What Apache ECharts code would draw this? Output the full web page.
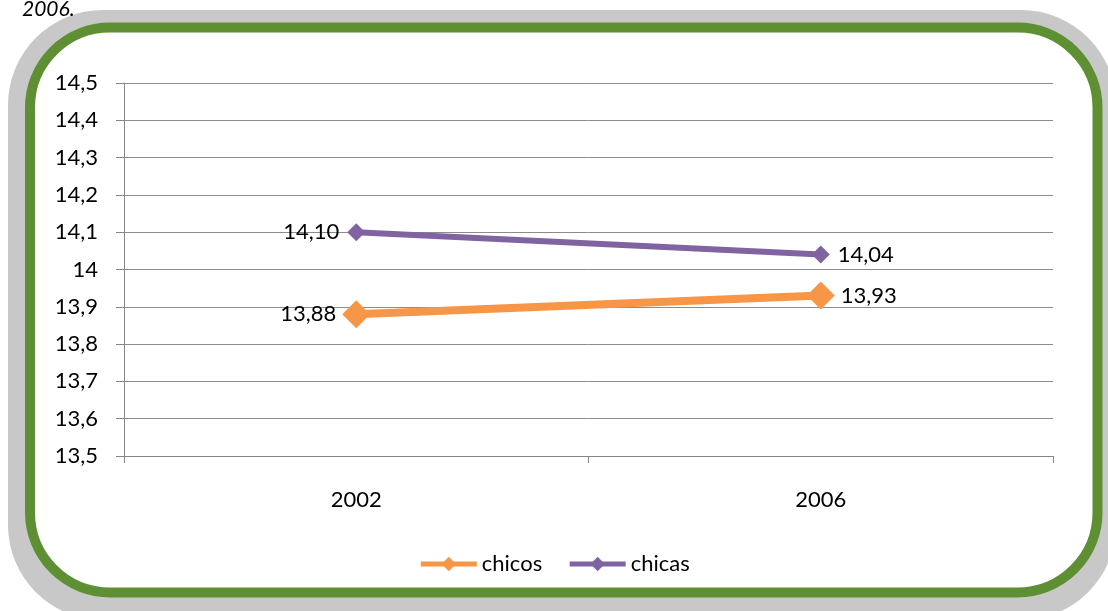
<!DOCTYPE html>
<html>
<head>
<meta charset="utf-8">
<script src="https://cdn.jsdelivr.net/npm/echarts@6/dist/echarts.min.js"></script>
<style>
  html, body { margin: 0; padding: 0; background: #fff; }
  #chart { width: 1108px; height: 611px; }
</style>
</head>
<body>
<div id="chart"></div>
<script>
// datos
var years = ['2002', '2006'];
var chicos = [13.88, 13.93];
var chicas = [14.10, 14.04];

var fmtComma = function (v) {
  return String(Math.round(v * 10) / 10).replace('.', ',');
};
var fmtLabel = function (p) {
  return p.value.toFixed(2).replace('.', ',');
};

// etiquetas: la primera a la izquierda, la segunda a la derecha
var withLabels = function (arr) {
  return arr.map(function (v, i) {
    return { value: v, label: { position: i === 0 ? 'left' : 'right' } };
  });
};

var chart = echarts.init(document.getElementById('chart'));

chart.setOption({
  animation: false,
  textStyle: { fontFamily: 'Lato, "Open Sans", sans-serif' },
  graphic: [
    {
      type: 'rect', z: -3,
      shape: { x: 8, y: 10, width: 1108, height: 610, r: 95 },
      style: { fill: '#c8c8c8' }
    },
    {
      type: 'rect', z: -2,
      shape: { x: 30, y: 27.5, width: 1067.5, height: 565, r: 80 },
      style: { fill: '#fff', stroke: '#5e8f32', lineWidth: 10 }
    },
    {
      type: 'text', z: 10,
      x: 22, y: -1,
      style: {
        text: '2006.', font: 'italic 21px Lato, sans-serif', fill: '#000',
        verticalAlign: 'top'
      }
    }
  ],
  grid: { left: 124, right: 55, top: 83, bottom: 155 },
  legend: {
    bottom: 31,
    left: 'center',
    itemWidth: 56,
    itemHeight: 18,
    itemGap: 25,
    lineStyle: { width: 5 },
    textStyle: { fontSize: 22, color: '#000' },
    data: ['chicos', 'chicas']
  },
  xAxis: {
    type: 'category',
    data: years,
    boundaryGap: true,
    axisLine: { lineStyle: { color: '#868686', width: 1 } },
    axisTick: { show: true, length: 7, lineStyle: { color: '#868686' } },
    axisLabel: { fontSize: 22, color: '#000', margin: 33 }
  },
  yAxis: {
    type: 'value',
    min: 13.5, max: 14.5, interval: 0.1,
    axisLine: { show: true, lineStyle: { color: '#868686' } },
    axisTick: { show: true, length: 8, lineStyle: { color: '#868686' } },
    axisLabel: { fontSize: 22, color: '#000', margin: 26, formatter: fmtComma },
    splitLine: { lineStyle: { color: '#8c8c8c', width: 1 } }
  },
  series: [
    {
      name: 'chicos',
      type: 'line',
      data: withLabels(chicos),
      color: '#f79646',
      lineStyle: { width: 8, color: '#f79646' },
      symbol: 'diamond',
      symbolSize: 28,
      itemStyle: { color: '#f79646' },
      label: { show: true, fontSize: 22, color: '#000', distance: 6, formatter: fmtLabel }
    },
    {
      name: 'chicas',
      type: 'line',
      data: withLabels(chicas),
      color: '#8064a2',
      lineStyle: { width: 6, color: '#8064a2' },
      symbol: 'diamond',
      symbolSize: 18,
      itemStyle: { color: '#8064a2' },
      label: { show: true, fontSize: 22, color: '#000', distance: 8, formatter: fmtLabel }
    }
  ]
});
</script>
</body>
</html>
